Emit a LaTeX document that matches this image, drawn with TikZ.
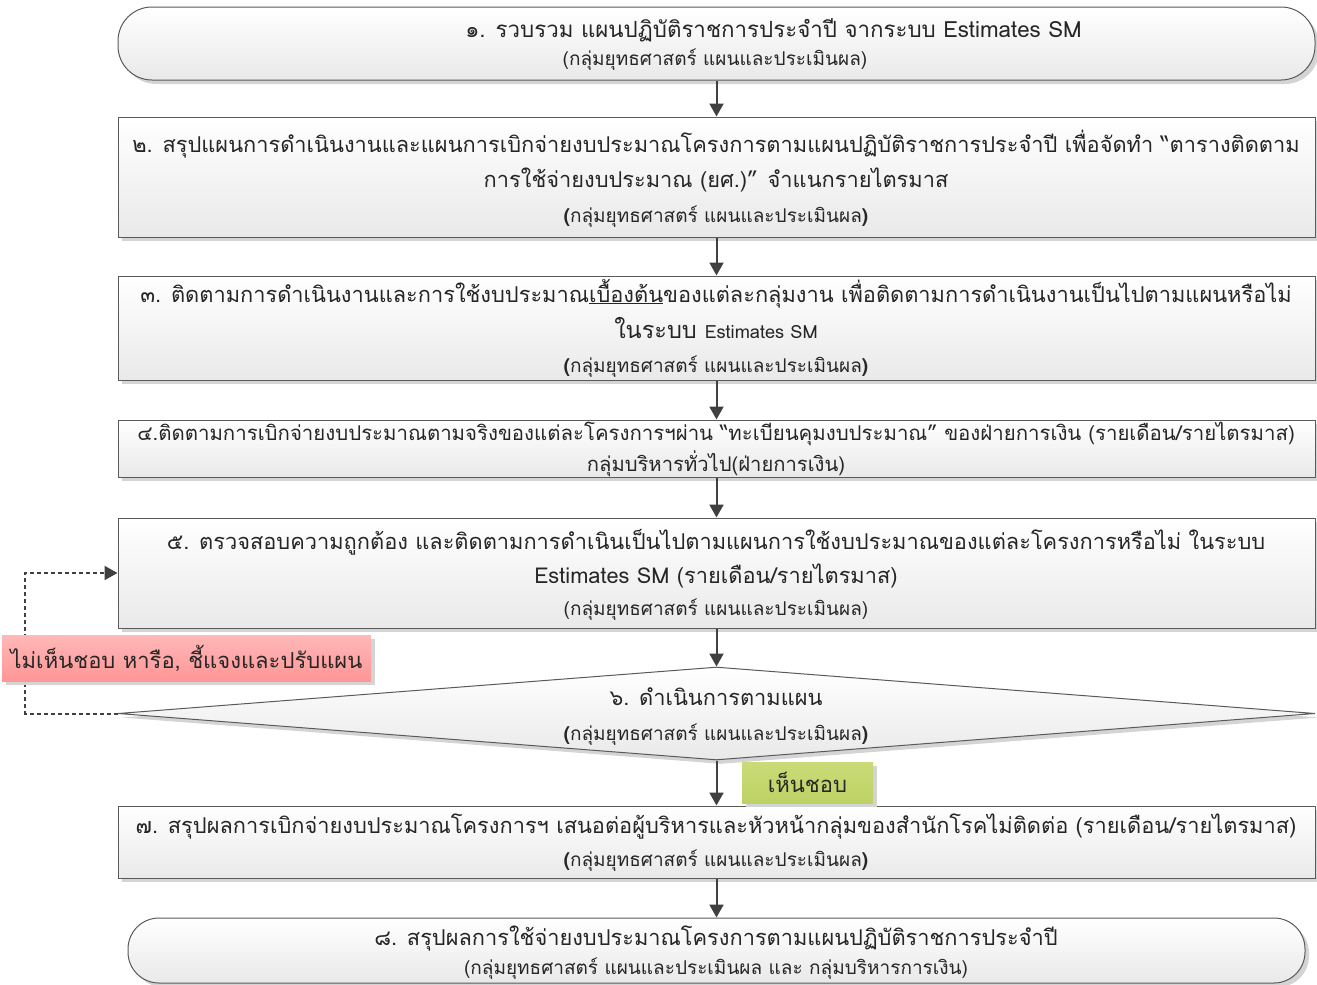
\documentclass[tikz,border=0pt]{standalone}
\usepackage{fontspec}
\setmainfont[Script=Thai]{Loma}
\usetikzlibrary{arrows.meta,shapes.geometric,shadows}
\definecolor{edgec}{HTML}{5A5A5A}
\definecolor{arrowc}{HTML}{404040}
\definecolor{boxbot}{HTML}{E9E9E9}
\definecolor{shadowc}{HTML}{D4D4D4}
\definecolor{textc}{HTML}{262626}
\definecolor{redtop}{HTML}{FFB8B8}
\definecolor{redbot}{HTML}{FF9696}
\definecolor{greentop}{HTML}{C9DB78}
\definecolor{greenbot}{HTML}{BDD265}
\newcommand{\mainsz}{\fontsize{21.8}{26}\selectfont}
\newcommand{\smallsz}{\fontsize{19}{22}\selectfont}
\newcommand{\unitname}{\textbf{(}กลุ่มยุทธศาสตร์ แผนและประเมินผล\textbf{)}}
\tikzset{
  boxbase/.style={draw=edgec, line width=1pt, top color=white, bottom color=boxbot,
    drop shadow={shadow xshift=4pt, shadow yshift=-4pt, fill=shadowc, opacity=1},
    inner sep=0pt, minimum width=1197pt},
  procbox/.style={boxbase, rectangle},
  termbox/.style={boxbase, rectangle, rounded corners=34pt},
  decbox/.style={boxbase, diamond, aspect=12.87, minimum height=93pt},
  flow/.style={draw=arrowc, line width=2pt, -{Triangle[length=13pt,width=14pt]}},
  loopline/.style={draw=arrowc, line width=2pt, dash pattern=on 4pt off 3pt,
    -{Triangle[length=13pt,width=14pt]}},
  txt/.style={anchor=base, inner sep=0pt, font=\mainsz, text=textc},
  stxt/.style={anchor=base, inner sep=0pt, font=\smallsz, text=textc},
  tagbox/.style={rectangle, inner sep=0pt, text=textc,
    drop shadow={shadow xshift=4pt, shadow yshift=-4pt, fill=shadowc, opacity=1}},
}
\begin{document}
\begin{tikzpicture}[x=1pt, y=-1pt]
\useasboundingbox (0,0) rectangle (1317,985);

% boxes
\node[termbox, minimum height=73pt] (b1) at (716.5,43.5) {};
\node[procbox, minimum height=120pt] (b2) at (716.5,177) {};
\node[procbox, minimum height=104pt] (b3) at (716.5,328) {};
\node[procbox, minimum height=57pt] (b4) at (716.5,448.5) {};
\node[procbox, minimum height=110pt] (b5) at (716.5,573) {};
\node[decbox] (d6) at (716.5,713.5) {};
\node[procbox, minimum height=72pt] (b7) at (716.5,842) {};
\node[termbox, minimum width=1177pt, minimum height=65pt, rounded corners=31pt] (b8) at (716.5,950.5) {};

% texts
\node[txt, font=\fontsize{22.3}{26}\selectfont] (t1a) at (773.5,37) {๑. รวบรวม แผนปฏิบัติราชการประจำปี จากระบบ Estimates SM};
\node[stxt] (t1b) at (715,65) {(กลุ่มยุทธศาสตร์ แผนและประเมินผล)};

\node[txt] (t2a) at (716,152) {๒. สรุปแผนการดำเนินงานและแผนการเบิกจ่ายงบประมาณโครงการตามแผนปฏิบัติราชการประจำปี เพื่อจัดทำ “ตารางติดตาม};
\node[txt] (t2b) at (716,187) {การใช้จ่ายงบประมาณ (ยศ.)” จำแนกรายไตรมาส};
\node[stxt] (t2c) at (716,222) {\unitname};

\node[txt] (t3a) at (716,302) {๓. ติดตามการดำเนินงานและการใช้งบประมาณ\underline{เบื้องต้น}ของแต่ละกลุ่มงาน เพื่อติดตามการดำเนินงานเป็นไปตามแผนหรือไม่};
\node[txt, font=\fontsize{23.5}{26}\selectfont] (t3b) at (716,338) {ในระบบ {\fontsize{18.2}{22}\selectfont Estimates SM}};
\node[stxt] (t3c) at (716,372) {\unitname};

\node[txt, font=\fontsize{20.4}{24}\selectfont] (t4a) at (716,440) {๔.ติดตามการเบิกจ่ายงบประมาณตามจริงของแต่ละโครงการฯผ่าน “ทะเบียนคุมงบประมาณ” ของฝ่ายการเงิน (รายเดือน/รายไตรมาส)};
\node[txt, font=\fontsize{20.2}{24}\selectfont] (t4b) at (716,471) {กลุ่มบริหารทั่วไป(ฝ่ายการเงิน)};

\node[txt] (t5a) at (716,549) {๕. ตรวจสอบความถูกต้อง และติดตามการดำเนินเป็นไปตามแผนการใช้งบประมาณของแต่ละโครงการหรือไม่ ในระบบ};
\node[txt] (t5b) at (716,583) {Estimates SM (รายเดือน/รายไตรมาส)};
\node[stxt] (t5c) at (716,615) {(กลุ่มยุทธศาสตร์ แผนและประเมินผล)};

\node[txt] (t6a) at (716,705) {๖. ดำเนินการตามแผน};
\node[stxt] (t6b) at (716,740) {\unitname};

\node[txt] (t7a) at (716,833) {๗. สรุปผลการเบิกจ่ายงบประมาณโครงการฯ เสนอต่อผู้บริหารและหัวหน้ากลุ่มของสำนักโรคไม่ติดต่อ (รายเดือน/รายไตรมาส)};
\node[stxt] (t7b) at (716,866) {\unitname};

\node[txt] (t8a) at (716,945) {๘. สรุปผลการใช้จ่ายงบประมาณโครงการตามแผนปฏิบัติราชการประจำปี};
\node[stxt] (t8b) at (716,974) {(กลุ่มยุทธศาสตร์ แผนและประเมินผล และ กลุ่มบริหารการเงิน)};

% connectors
\draw[flow] (b1) -- (b2);
\draw[flow] (b2) -- (b3);
\draw[flow] (b3) -- (b4);
\draw[flow] (b4) -- (b5);
\draw[flow] (b5) -- (d6);
\draw[flow] (d6.south) -- (b7.north);
\draw[flow] (b7) -- (b8);

\coordinate (lp1) at (25,713.5);
\coordinate (lp2) at (25,573);
\draw[loopline] (d6.west) -- (lp1) -- (lp2) -- (b5.west);

% tags
\node[tagbox, top color=redtop, bottom color=redbot, minimum width=369pt, minimum height=46pt,
  font=\fontsize{22}{26}\selectfont] (no) at (186.5,658) {ไม่เห็นชอบ หารือ, ชี้แจงและปรับแผน};
\node[tagbox, top color=greentop, bottom color=greenbot, minimum width=131pt, minimum height=41pt,
  font=\fontsize{22}{26}\selectfont] (yes) at (807.5,782.5) {เห็นชอบ};
\end{tikzpicture}
\end{document}
